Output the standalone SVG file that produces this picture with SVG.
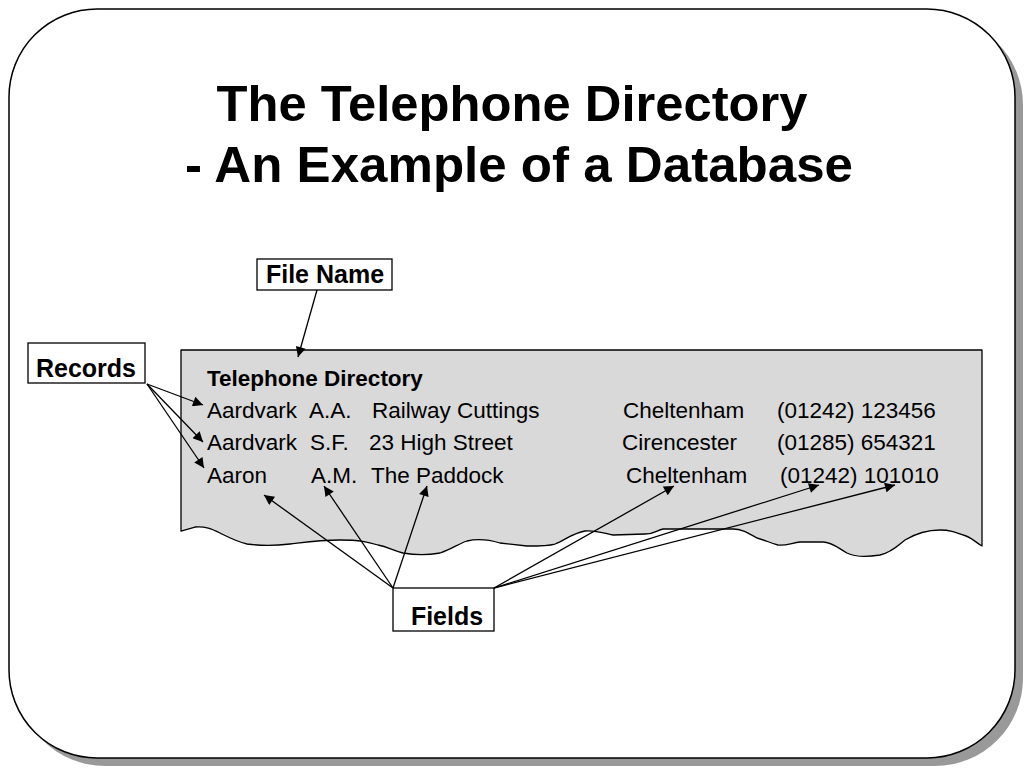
<svg xmlns="http://www.w3.org/2000/svg" width="1024" height="768" viewBox="0 0 1024 768">
<style>
.title{font-family:"Liberation Sans",Arial,sans-serif;font-weight:bold;font-size:50px;fill:#000}
.hd{font-family:"Liberation Sans",Arial,sans-serif;font-weight:bold;font-size:22.5px;fill:#000}
.row{font-family:"Liberation Sans",Arial,sans-serif;font-size:22.5px;fill:#000}
.lbl{font-family:"Liberation Sans",Arial,sans-serif;font-weight:bold;font-size:25px;fill:#000}
.box{fill:#fff;stroke:#000;stroke-width:1.3}
.conn line{stroke:#000;stroke-width:1.3;marker-end:url(#ah)}
</style>
<defs>
<marker id="ah" viewBox="0 0 10 10" refX="10" refY="5" markerWidth="12" markerHeight="10" markerUnits="userSpaceOnUse" orient="auto">
<path d="M0,0 L10,5 L0,10 Z" fill="#000"/>
</marker>
</defs>
<rect width="1024" height="768" fill="#fff"/>
<g id="frame">
<rect x="17" y="17" width="1006" height="749" rx="88" ry="88" fill="#999"/>
<rect x="9" y="9" width="1006" height="749" rx="88" ry="88" fill="#fff" stroke="#000" stroke-width="1.5"/>
</g>
<g id="title">
<text class="title" x="512" y="121" text-anchor="middle" textLength="591" lengthAdjust="spacingAndGlyphs">The Telephone Directory</text>
<text class="title" x="519" y="182" text-anchor="middle" textLength="668" lengthAdjust="spacingAndGlyphs">- An Example of a Database</text>
</g>
<g id="directory">
<path d="M181,350 L982,350 L982,546 C975,542 970,536 963,535 C955,532 950,530 940,530 C925,530 915,534 905,540 C897,546 892,552 880,555 C868,557 855,557 847,553 C838,548 832,542 823,542 L800,542 C792,543 785,546 778,545 C770,543 765,540 757,538 C748,533 742,529 733,529 L663,529 C657,530 655,534 645,534 L613,535 C603,533 595,530 585,531 C573,533 565,540 555,544 C548,546 540,546 527,546 L500,543 C490,540 480,538 467,541 C458,544 452,549 440,553 C428,555 415,555 403,553 C392,550 388,547 378,545 C368,542 360,540 340,540 C320,540 307,542 290,544 C273,546 262,546 247,544 C235,541 228,537 220,533 C212,529 205,526 195,527 L181,531 Z" fill="#d9d9d9" stroke="#000" stroke-width="1.3" stroke-linejoin="round"/>
<text class="hd" x="207" y="386">Telephone Directory</text>
<text class="row" y="418"><tspan x="207">Aardvark</tspan><tspan x="309">A.A.</tspan><tspan x="372">Railway Cuttings</tspan><tspan x="623">Cheltenham</tspan><tspan x="777">(01242) 123456</tspan></text>
<text class="row" y="450"><tspan x="207">Aardvark</tspan><tspan x="310">S.F.</tspan><tspan x="369">23 High Street</tspan><tspan x="622">Cirencester</tspan><tspan x="777">(01285) 654321</tspan></text>
<text class="row" y="483"><tspan x="207">Aaron</tspan><tspan x="311">A.M.</tspan><tspan x="371">The Paddock</tspan><tspan x="626">Cheltenham</tspan><tspan x="780">(01242) 101010</tspan></text>
</g>
<g id="filename">
<rect class="box" x="257" y="259" width="135" height="31"/>
<text class="lbl" x="325" y="283" text-anchor="middle">File Name</text>
</g>
<g id="records">
<rect class="box" x="28" y="343" width="117" height="40"/>
<text class="lbl" x="86" y="377" text-anchor="middle">Records</text>
</g>
<g id="fields">
<rect class="box" x="393" y="588" width="101" height="43"/>
<text class="lbl" x="447" y="625" text-anchor="middle">Fields</text>
</g>
<g id="connectors" class="conn">
<line x1="317" y1="290" x2="298" y2="357"/>
<line x1="147" y1="384" x2="203" y2="405"/>
<line x1="147" y1="384" x2="203" y2="442"/>
<line x1="147" y1="384" x2="204" y2="468"/>
<line x1="393" y1="588" x2="264" y2="495"/>
<line x1="393" y1="588" x2="324" y2="486"/>
<line x1="393" y1="588" x2="427" y2="486"/>
<line x1="494" y1="588" x2="674" y2="486"/>
<line x1="494" y1="588" x2="819" y2="485"/>
<line x1="494" y1="588" x2="895" y2="485"/>
</g>
</svg>
